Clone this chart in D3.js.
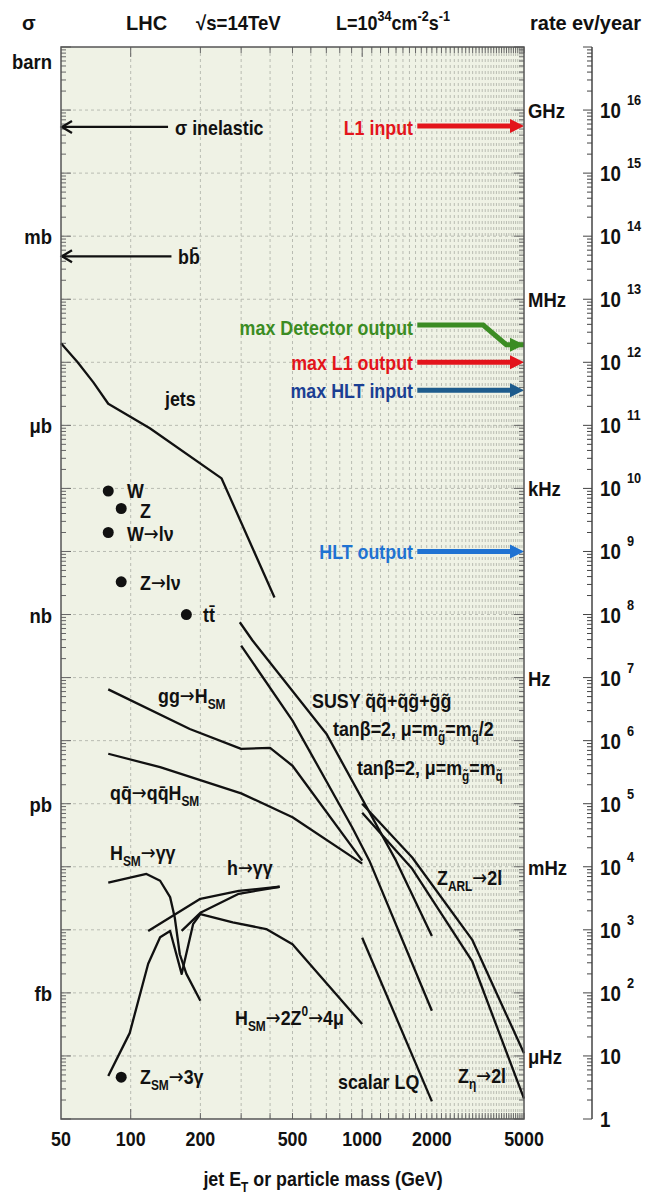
<!DOCTYPE html>
<html>
<head>
<meta charset="utf-8">
<script src="https://cdn.jsdelivr.net/npm/d3@7"></script>
<style>
  body { margin: 0; background: #fff; }
  text { font-family: "Liberation Sans", Arial, sans-serif; font-weight: bold; fill: #111; }
  tspan.arr { font-family: "DejaVu Sans", sans-serif; font-weight: normal; }
</style>
</head>
<body>
<svg id="chart" width="648" height="1196"></svg>
<script>
/*------------------------------------------*/
/*            Data (GeV, pb)                */
/*------------------------------------------*/

var jetsEt    = [50, 59, 69, 80, 121, 247, 418],
    jetsSigma = [2.0e7, 1.0e7, 4.8e6, 2.2e6, 9.0e5, 1.44e5, 1.86e3];

var ggHMass  = [80, 180, 300, 400, 500, 1000],
    ggHSigma = [65, 15.3, 7.4, 7.7, 4.0, 0.125];

var qqHMass  = [80, 134, 300, 500, 1000],
    qqHSigma = [6.2, 3.8, 1.46, 0.61, 0.112];

var susyHalfMass  = [296, 336, 700, 1400, 2000],
    susyHalfSigma = [755, 387, 12.9, 0.125, 0.008];

var susyEqMass  = [300, 500, 907, 1074, 2000],
    susyEqSigma = [322, 20.8, 0.416, 0.125, 5.2e-4];

var zArlMass  = [1000, 1645, 2984, 5000],
    zArlSigma = [1.0, 0.14, 0.007, 1.1e-4];

var zEtaMass  = [1000, 1645, 2984, 5000],
    zEtaSigma = [0.72, 0.093, 0.0032, 2.1e-5];

var lqMass  = [1000, 2000],
    lqSigma = [7.5e-3, 1.9e-5];

var hGamMass  = [80, 117, 134, 148, 155, 163, 174, 200],
    hGamSigma = [0.056, 0.077, 0.06, 0.033, 0.0157, 0.0041, 0.002, 7.5e-4];

var h4muMass  = [80, 99, 119, 134, 148, 166, 186, 200, 276, 385, 500, 1000],
    h4muSigma = [4.8e-5, 2.3e-4, 2.9e-3, 7.6e-3, 9.6e-3, 2.0e-3, 0.0123, 0.0178, 0.0131, 0.0103, 0.0059, 3.2e-4];

var hMssmMass  = [119, 200, 293, 440],
    hMssmSigma = [0.0096, 0.031, 0.0416, 0.0482];

var hMssm2Mass  = [166, 200, 293, 440],
    hMssm2Sigma = [0.0096, 0.0186, 0.0373, 0.0482];

var pointMass  = [80, 91, 80, 91, 174, 91],
    pointSigma = [9.1e4, 4.8e4, 2.0e4, 3.3e3, 1.0e3, 4.6e-5];

// rates in Hz at L = 1e34
var trigRates  = [5.6e8, 1.0e5, 3.6e4, 100],
    trigColors = ["#e3141b", "#e3141b", "#1d5b8c", "#1f72d2"];
var detRates = [3.9e5, 3.9e5, 1.9e5, 1.9e5],
    detMass  = [1730, 3330, 4190, 5000];

var inelSigma = 5.4e10, bbSigma = 4.8e8;

var xTickLabels = [50, 100, 200, 500, 1000, 2000, 5000];
var sigmaUnits  = ["barn", "mb", "\u03bcb", "nb", "pb", "fb"],
    sigmaUnitVals = [1e12, 1e9, 1e6, 1e3, 1, 1e-3];
var rateUnits = ["GHz", "MHz", "kHz", "Hz", "mHz", "\u03bcHz"],
    rateUnitVals = [1e9, 1e6, 1e3, 1, 1e-3, 1e-6];

/*------------------------------------------*/
/*            Scales                        */
/*------------------------------------------*/

var frame = {left: 61, right: 524, top: 47, bottom: 1119};
var secPerYear = 1e7;

var x = d3.scaleLog().domain([50, 5000]).range([frame.left, frame.right]);
var y = d3.scaleLog().domain([1e12, 1e-5]).range([frame.top, frame.bottom]);
// events per year = sigma[pb] * 1e-36 * 1e34 * 1e7
var yEv = d3.scaleLog().domain([1e17, 1]).range([frame.top, frame.bottom]);
var yRate = function(r) { return yEv(r * secPerYear); };

var svg = d3.select("#chart");

/*------------------------------------------*/
/*            Frame, grid                   */
/*------------------------------------------*/

svg.append("rect")
    .attr("x", frame.left).attr("y", frame.top)
    .attr("width", frame.right - frame.left).attr("height", frame.bottom - frame.top)
    .attr("fill", "#eff2e5");

var xTicks = x.ticks(60),
    yTicks = y.ticks(300);
var isDecade = function(v) { return Math.abs(Math.log10(v) - Math.round(Math.log10(v))) < 1e-6; };

var grid = svg.append("g").attr("stroke", "#b9bcb2").attr("stroke-width", 1)
    .attr("stroke-dasharray", "3,3");

grid.selectAll("line.vx")
    .data(xTicks.filter(function(d) { return d > 50 && d < 5000; }))
    .enter().append("line")
    .attr("x1", function(d) { return x(d); }).attr("x2", function(d) { return x(d); })
    .attr("y1", frame.top).attr("y2", frame.bottom);

grid.selectAll("line.hy")
    .data(yTicks.filter(function(d) { return isDecade(d) && d < 1e12 && d > 1e-5; }))
    .enter().append("line")
    .attr("x1", frame.left).attr("x2", frame.right)
    .attr("y1", function(d) { return y(d); }).attr("y2", function(d) { return y(d); });

var ticks = svg.append("g").attr("stroke", "#666").attr("stroke-width", 1);

[frame.left, frame.right].forEach(function(edge) {
  var dir = edge === frame.left ? 1 : -1;
  ticks.selectAll(null)
      .data(yTicks)
      .enter().append("line")
      .attr("x1", edge)
      .attr("x2", function(d) { return edge + dir * (isDecade(d) ? 10 : 5); })
      .attr("y1", function(d) { return y(d); }).attr("y2", function(d) { return y(d); });
});

[frame.top, frame.bottom].forEach(function(edge) {
  var dir = edge === frame.top ? 1 : -1;
  ticks.selectAll(null)
      .data(xTicks)
      .enter().append("line")
      .attr("y1", edge)
      .attr("y2", function(d) { return edge + dir * (isDecade(d) ? 10 : 6); })
      .attr("x1", function(d) { return x(d); }).attr("x2", function(d) { return x(d); });
});

/*------------------------------------------*/
/*            Curves                        */
/*------------------------------------------*/

var line = d3.line()
    .x(function(d) { return x(d[0]); })
    .y(function(d) { return y(d[1]); });

var curves = [
  [jetsEt, jetsSigma], [ggHMass, ggHSigma], [qqHMass, qqHSigma],
  [susyHalfMass, susyHalfSigma], [susyEqMass, susyEqSigma],
  [zArlMass, zArlSigma], [zEtaMass, zEtaSigma], [lqMass, lqSigma],
  [hGamMass, hGamSigma], [h4muMass, h4muSigma], [hMssmMass, hMssmSigma],
  [hMssm2Mass, hMssm2Sigma]
];

var plot = svg.append("g");

plot.selectAll("path.curve")
    .data(curves)
    .enter().append("path")
    .attr("class", "curve")
    .attr("fill", "none").attr("stroke", "#111").attr("stroke-width", 2.3)
    .attr("stroke-linejoin", "round")
    .attr("d", function(c) { return line(d3.zip(c[0], c[1])); });

plot.selectAll("circle")
    .data(d3.zip(pointMass, pointSigma))
    .enter().append("circle")
    .attr("cx", function(d) { return x(d[0]); })
    .attr("cy", function(d) { return y(d[1]); })
    .attr("r", 5.5).attr("fill", "#111");

// cross-section arrows pointing at the left axis
[[inelSigma, 145], [bbSigma, 150]].forEach(function(a) {
  var yy = y(a[0]), x0 = frame.left + 1;
  plot.append("line").attr("x1", x(a[1])).attr("x2", x0)
      .attr("y1", yy).attr("y2", yy).attr("stroke", "#111").attr("stroke-width", 2.3);
  plot.append("path").attr("d", "M" + (x0 + 10) + "," + (yy - 6) + "L" + x0 + "," + yy + "L" + (x0 + 10) + "," + (yy + 6))
      .attr("fill", "none").attr("stroke", "#111").attr("stroke-width", 2.3);
});

// trigger-level arrows pointing at the rate axis
function arrowHead(yy, col) {
  plot.append("path")
      .attr("d", "M" + (frame.right - 14) + "," + (yy - 7) + "L" + frame.right + "," + yy + "L" + (frame.right - 14) + "," + (yy + 7) + "Z")
      .attr("fill", col);
}

trigRates.forEach(function(r, i) {
  var yy = yRate(r);
  plot.append("line").attr("x1", x(1730)).attr("x2", frame.right - 10)
      .attr("y1", yy).attr("y2", yy).attr("stroke", trigColors[i]).attr("stroke-width", 5);
  arrowHead(yy, trigColors[i]);
});

plot.append("path")
    .attr("d", d3.line().x(function(d) { return x(d[0]); }).y(function(d) { return yRate(d[1]); })(d3.zip(detMass, detRates)))
    .attr("fill", "none").attr("stroke", "#3b8c23").attr("stroke-width", 5);
arrowHead(yRate(detRates[3]), "#3b8c23");

svg.append("rect")
    .attr("x", frame.left).attr("y", frame.top)
    .attr("width", frame.right - frame.left).attr("height", frame.bottom - frame.top)
    .attr("fill", "none").attr("stroke", "#555").attr("stroke-width", 1.5);

/*------------------------------------------*/
/*            Text helpers                  */
/*------------------------------------------*/

// ROOT style labels: condensed, with sub / superscripts, arrows from DejaVu
function rich(x0, y0, parts, opts) {
  opts = opts || {};
  var t = svg.append("text")
      .attr("transform", "translate(" + x0 + "," + y0 + ") scale(" + (opts.squeeze || 0.85) + ",1)")
      .attr("font-size", (opts.size || 21) + "px")
      .attr("text-anchor", opts.anchor || "start");
  if (opts.fill) t.style("fill", opts.fill);
  var shift = 0;
  parts.forEach(function(p) {
    var s = typeof p === "string" ? "n" : p[1];
    var txt = typeof p === "string" ? p : p[0];
    var target = s === "sub" ? 6 : (s === "sup" ? -9 : 0);
    txt.split(/(\u2192)/).filter(function(c) { return c.length; }).forEach(function(chunk, k) {
      var ts = t.append("tspan").text(chunk)
          .attr("font-size", s === "n" ? null : "14px");
      if (k === 0) ts.attr("dy", target - shift);
      if (chunk === "\u2192") ts.attr("class", "arr");
    });
    shift = target;
  });
  return t;
}

/*------------------------------------------*/
/*            Header & axes labels          */
/*------------------------------------------*/

rich(22, 30, ["\u03c3"], {size: 20, squeeze: 1});
rich(126, 30, ["LHC"], {size: 20, squeeze: 1});
rich(196, 30, ["\u221as=14TeV"], {size: 20, squeeze: 0.93});
rich(336, 30, ["L=10", ["34", "sup"], "cm", ["-2", "sup"], "s", ["-1", "sup"]], {size: 20, squeeze: 0.9});
rich(530, 30, ["rate"], {size: 20, squeeze: 1});
rich(572, 30, ["ev/year"], {size: 20, squeeze: 1});

sigmaUnits.forEach(function(u, i) {
  var yy = y(sigmaUnitVals[i]) + (i === 0 ? 22 : 8);
  rich(52, yy, [u], {anchor: "end", squeeze: 0.88});
});

rateUnits.forEach(function(u, i) {
  rich(528, yRate(rateUnitVals[i]) + 8, [u], {squeeze: 0.88});
});

xTickLabels.forEach(function(v) {
  rich(x(v), 1146, [String(v)], {anchor: "middle"});
});

rich(323, 1186, ["jet E", ["T", "sub"], " or particle mass (GeV)"], {anchor: "middle"});

// events per year axis
var evAxisX = 592;
svg.append("line").attr("x1", evAxisX).attr("x2", evAxisX)
    .attr("y1", yEv(1e16) - 63).attr("y2", yEv(1))
    .attr("stroke", "#444").attr("stroke-width", 1.5);
var evTicks = yEv.ticks(300).filter(function(d) { return d >= 1 && d <= 1e17; });
svg.append("g").attr("stroke", "#444").attr("stroke-width", 1)
  .selectAll("line").data(evTicks).enter().append("line")
    .attr("x1", evAxisX)
    .attr("x2", function(d) { return evAxisX - (isDecade(d) ? 9 : 5); })
    .attr("y1", function(d) { return yEv(d); }).attr("y2", function(d) { return yEv(d); });

d3.range(0, 17).forEach(function(p) {
  var yy = yEv(Math.pow(10, p)) + 8;
  if (p === 0) rich(600, yy, ["1"], {size: 22});
  else if (p === 1) rich(600, yy, ["10"], {size: 22});
  else {
    rich(600, yy, ["10"], {size: 22});
    rich(627, yy - 13, [String(p)], {size: 15});
  }
});

/*------------------------------------------*/
/*            In-plot labels                */
/*------------------------------------------*/

rich(175, 135, ["\u03c3 inelastic"]);
rich(413, 135, ["L1 input"], {anchor: "end", fill: "#e3141b"});
rich(178, 264, ["bb\u0304"]);
rich(413, 335, ["max Detector output"], {anchor: "end", fill: "#3b8c23"});
rich(413, 370, ["max L1 output"], {anchor: "end", fill: "#e3141b"});
rich(413, 398, ["max HLT input"], {anchor: "end", fill: "#1b3f93"});
rich(413, 559, ["HLT output"], {anchor: "end", fill: "#1f72d2"});
rich(165, 406, ["jets"]);
rich(127, 498, ["W"]);
rich(140, 518, ["Z"]);
rich(127, 541, ["W\u2192l\u03bd"]);
rich(140, 590, ["Z\u2192l\u03bd"]);
rich(203, 622, ["tt\u0304"]);
rich(158, 703, ["gg\u2192H", ["SM", "sub"]]);
rich(312, 708, ["SUSY q\u0303q\u0303+q\u0303g\u0303+g\u0303g\u0303"]);
rich(333, 736, ["tan\u03b2=2, \u03bc=m", ["g\u0303", "sub"], "=m", ["q\u0303", "sub"], "/2"]);
rich(357, 775, ["tan\u03b2=2, \u03bc=m", ["g\u0303", "sub"], "=m", ["q\u0303", "sub"]]);
rich(110, 800, ["qq\u0304\u2192qq\u0304H", ["SM", "sub"]]);
rich(110, 860, ["H", ["SM", "sub"], "\u2192\u03b3\u03b3"]);
rich(227, 875, ["h\u2192\u03b3\u03b3"]);
rich(437, 885, ["Z", ["ARL", "sub"], "\u21922l"]);
rich(235, 1025, ["H", ["SM", "sub"], "\u21922Z", ["0", "sup"], "\u21924\u03bc"]);
rich(140, 1084, ["Z", ["SM", "sub"], "\u21923\u03b3"]);
rich(338, 1089, ["scalar LQ"]);
rich(458, 1083, ["Z", ["\u03b7", "sub"], "\u21922l"]);
</script>
</body>
</html>
